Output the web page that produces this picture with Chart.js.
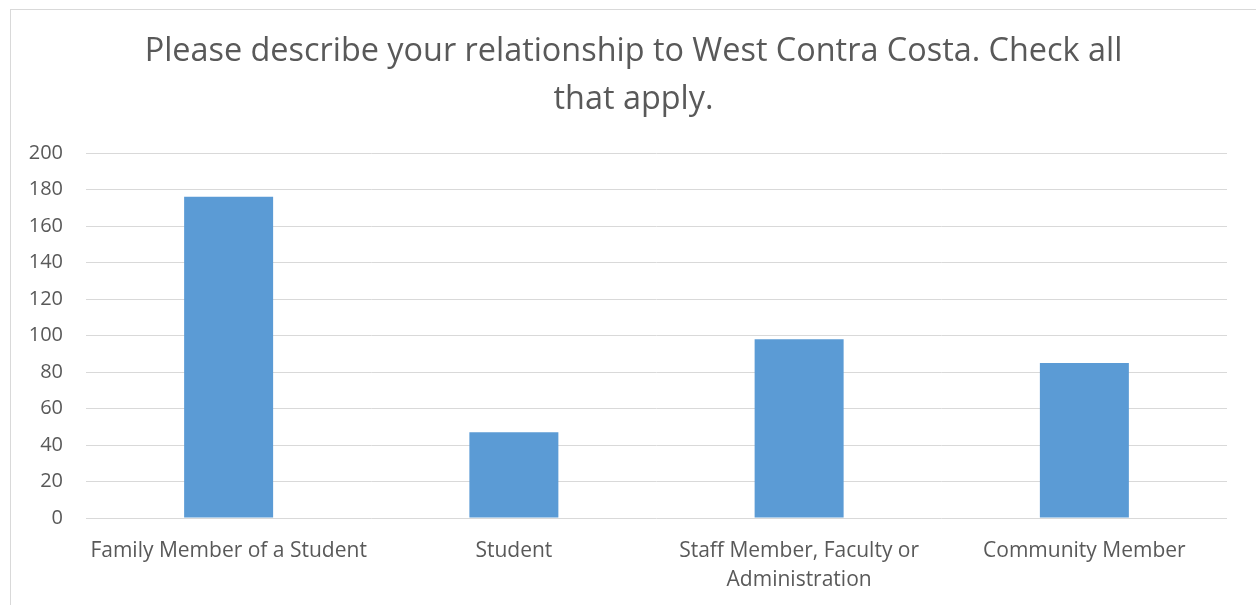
<!DOCTYPE html>
<html><head><meta charset="utf-8">
<script src="https://cdn.jsdelivr.net/npm/chart.js@4/dist/chart.umd.min.js"></script>
<style>
html,body{margin:0;padding:0;background:#fff;overflow:hidden;}
#wrap{position:absolute;left:0;top:0;width:1256px;height:605px;}
#frame{position:absolute;left:10px;top:9px;width:1300px;height:700px;border:1px solid #D9D9D9;box-sizing:border-box;}
canvas{position:absolute;left:0;top:0;}
</style></head>
<body>
<div id="wrap"><div id="frame"></div><canvas id="c" width="1256" height="605"></canvas></div>
<script>
const categories = ["Family Member of a Student", "Student", ["Staff Member, Faculty or", "Administration"], "Community Member"];
const values = [176, 47, 98, 85];
const yTicks = [0, 20, 40, 60, 80, 100, 120, 140, 160, 180, 200];
const titleLines = ["Please describe your relationship to West Contra Costa. Check all", "that apply."];

const FONT = "'Open Sans', 'Noto Sans', sans-serif";
const titlePlugin = {
  id: 'centeredTitle',
  afterDraw(chart) {
    const ctx = chart.ctx;
    ctx.save();
    ctx.fillStyle = '#595959';
    ctx.font = "32.4px " + FONT;
    ctx.textAlign = 'center';
    ctx.textBaseline = 'middle';
    titleLines.forEach((t, i) => ctx.fillText(t, 633.5, 52 + i * 48));
    ctx.restore();
  }
};
new Chart(document.getElementById('c'), {
  type: 'bar',
  data: { labels: categories, datasets: [{ data: values, backgroundColor: '#5B9BD5', borderWidth: 0, categoryPercentage: 1, barPercentage: 0.312 }] },
  options: {
    responsive: false, animation: false, devicePixelRatio: 1,
    layout: { padding: { left: 20, right: 29, top: 153, bottom: 0 } },
    plugins: { legend: { display: false }, tooltip: { enabled: false }, title: { display: false } },
    scales: {
      x: {
        grid: { display: false, drawTicks: false }, border: { display: false },
        ticks: { color: '#595959', font: { family: FONT, size: 21, lineHeight: 1.38 }, padding: 19, maxRotation: 0, autoSkip: false },
        afterFit: s => { s.height = 87; }
      },
      y: {
        min: 0, max: 200,
        afterBuildTicks: s => { s.ticks = yTicks.map(v => ({ value: v })); },
        grid: { color: '#D9D9D9', lineWidth: 1, drawTicks: false }, border: { display: false },
        ticks: { color: '#595959', font: { family: FONT, size: 20 }, padding: 23 },
        afterFit: s => { s.width = 66; }
      }
    }
  },
  plugins: [titlePlugin]
});
</script>
</body></html>
